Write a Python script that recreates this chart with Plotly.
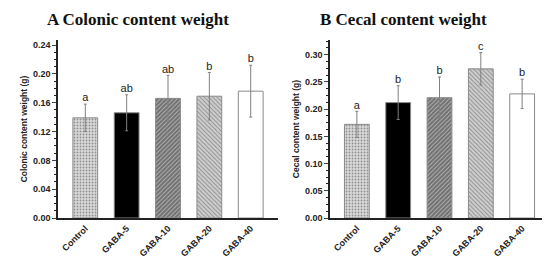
import plotly.graph_objects as go

groups = ["Control", "GABA-5", "GABA-10", "GABA-20", "GABA-40"]

colonic_mean = [0.139, 0.146, 0.166, 0.169, 0.176]
colonic_sd = [0.019, 0.025, 0.032, 0.033, 0.036]
colonic_letters = ["a", "ab", "ab", "b", "b"]

cecal_mean = [0.172, 0.212, 0.221, 0.274, 0.228]
cecal_sd = [0.024, 0.031, 0.038, 0.030, 0.027]
cecal_letters = ["a", "b", "b", "c", "b"]

bar_colors = ["#dadada", "#000000", "#707070", "#cfcfcf", "#ffffff"]
pattern_shapes = [".", "", "/", "\\", ""]
pattern_fg = ["#bdbdbd", "#000000", "#4e4e4e", "#9e9e9e", "#ffffff"]

# the page body has an 8px margin, so work in page pixels and subtract it
OFF = 8
W, H = 550 - OFF, 261 - OFF


def px_x(a, b):
    return [(a - OFF) / W, (b - OFF) / W]


def px_y(top, bottom):
    return [(H - (bottom - OFF)) / H, (H - (top - OFF)) / H]


fig = go.Figure()

panels = [
    (colonic_mean, colonic_sd, colonic_letters, "x", "y"),
    (cecal_mean, cecal_sd, cecal_letters, "x2", "y2"),
]
for mean, sd, letters, xa, ya in panels:
    fig.add_trace(go.Bar(
        x=groups, y=mean, width=0.6, xaxis=xa, yaxis=ya,
        marker=dict(
            color=bar_colors,
            line=dict(color="#8a8a8a", width=1),
            pattern=dict(shape=pattern_shapes, fgcolor=pattern_fg,
                         size=3, solidity=0.3),
        ),
        error_y=dict(type="data", array=sd, color="#808080",
                     thickness=1, width=1.5),
        showlegend=False,
    ))
    fig.add_trace(go.Scatter(
        x=groups, y=[m + s for m, s in zip(mean, sd)], xaxis=xa, yaxis=ya,
        mode="text", text=letters, textposition="top center",
        textfont=dict(family="Liberation Sans", size=11, color="#222222"),
        showlegend=False, hoverinfo="skip",
    ))

tick_font = dict(family="Liberation Sans", size=9, color="#222222")
ax_common = dict(showline=True, linecolor="#222222", linewidth=1.5,
                 tickfont=tick_font, showgrid=False, zeroline=False,
                 automargin=False, tickprefix="<b>", ticksuffix="</b>")
title_font = dict(family="Liberation Sans", size=8.5, color="#222222")

fig.update_layout(
    width=W, height=H,
    margin=dict(l=0, r=0, t=0, b=0),
    paper_bgcolor="white", plot_bgcolor="white",
    xaxis=dict(domain=px_x(58, 278), range=[-0.66, 4.66], ticks="",
               tickangle=-45, anchor="y", **ax_common),
    yaxis=dict(domain=px_y(40, 218), range=[0, 0.247], dtick=0.04,
               tickformat=".2f", ticks="outside", ticklen=4, tickwidth=1.2,
               minor=dict(ticks="outside", ticklen=2, dtick=0.01, tickcolor="#222222"),
               anchor="x",
               title=dict(text="<b>Colonic content weight (g)</b>",
                          font=title_font, standoff=4),
               **ax_common),
    xaxis2=dict(domain=px_x(330, 549), range=[-0.65, 4.65], ticks="",
                tickangle=-45, anchor="y2", **ax_common),
    yaxis2=dict(domain=px_y(40, 218), range=[0, 0.327], dtick=0.05,
                tickformat=".2f", ticks="outside", ticklen=4, tickwidth=1.2,
                minor=dict(ticks="outside", ticklen=2, dtick=0.0125, tickcolor="#222222"),
                anchor="x2",
                title=dict(text="<b>Cecal content weight (g)</b>",
                           font=title_font, standoff=4),
                **ax_common),
    annotations=[
        dict(text="<b>A Colonic content weight</b>", x=(138 - OFF) / W,
             y=1 - (20 - OFF) / H, xref="paper", yref="paper",
             xanchor="center", yanchor="middle", showarrow=False,
             font=dict(family="Liberation Serif", size=17, color="#111111")),
        dict(text="<b>B Cecal content weight</b>", x=(403 - OFF) / W,
             y=1 - (20 - OFF) / H, xref="paper", yref="paper",
             xanchor="center", yanchor="middle", showarrow=False,
             font=dict(family="Liberation Serif", size=17, color="#111111")),
    ],
)

fig.write_html("out.html")
